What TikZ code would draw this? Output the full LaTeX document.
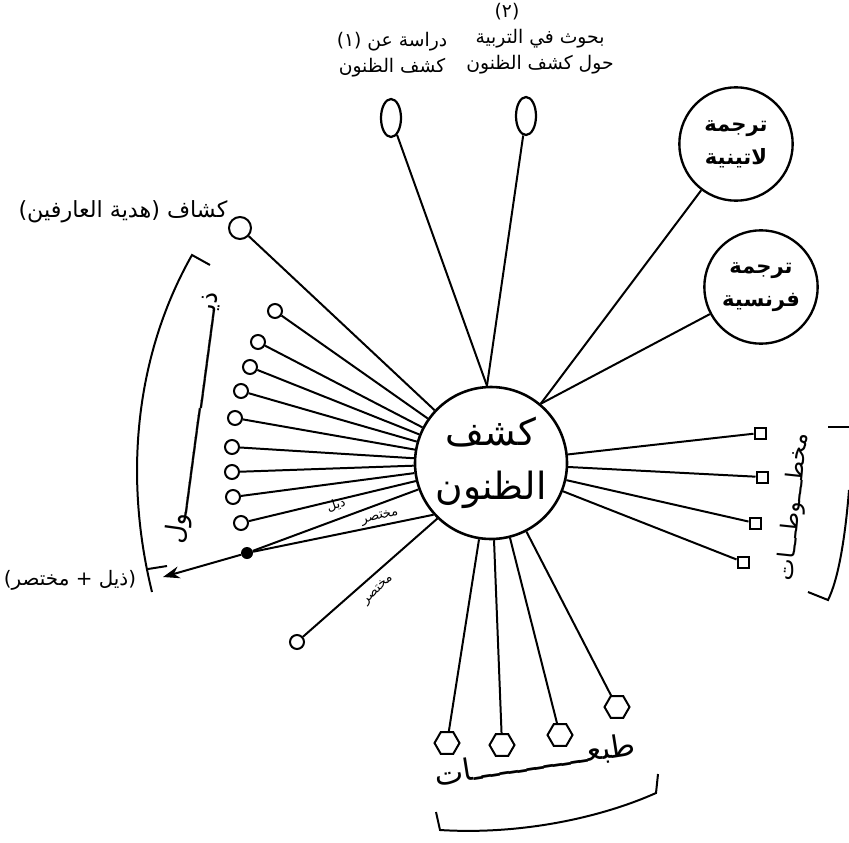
\documentclass[tikz,border=0pt]{standalone}
\usepackage{fontspec}
\newfontfamily\arabicfont[Script=Arabic]{DejaVu Sans}
\TeXXeTstate=1
\usetikzlibrary{shapes.geometric,arrows.meta}
\newcommand\artxt[1]{{\arabicfont\beginR #1\endR}}

\begin{document}
\begin{tikzpicture}[
	x=0.03cm, y=-0.03cm,
	ln/.style = {line width=1.7pt},
	hub/.style = {circle, draw, line width=2.2pt, minimum size=4.56cm, inner sep=0, align=center, font=\fontsize{32}{46}\selectfont},
	transl/.style = {circle, draw, line width=2pt, minimum size=3.4cm, inner sep=0, align=center, font=\bfseries\fontsize{18}{28}\selectfont},
	egg/.style = {ellipse, draw, line width=1.9pt, minimum width=0.6cm, minimum height=1.14cm, inner sep=0},
	ring/.style = {circle, draw, line width=1.7pt, minimum size=0.42cm, inner sep=0},
	bigring/.style = {ring, minimum size=0.66cm},
	blob/.style = {circle, fill, minimum size=0.36cm, inner sep=0},
	sq/.style = {rectangle, draw, line width=1.7pt, minimum size=0.33cm, inner sep=0},
	hex/.style = {regular polygon, regular polygon sides=6, draw, line width=1.7pt, minimum size=0.75cm, inner sep=0},
	lbl/.style = {align=center, inner sep=0, font=\fontsize{16}{22}\selectfont},
	tiny/.style = {inner sep=0, font=\fontsize{11}{13}\selectfont}
	]
	\useasboundingbox (0,0) rectangle (849,842);

	%Nodes
	\node[hub]	(hub)	at	(491,463)	{\artxt{كشف}\\\artxt{الظنون}};
	\node[egg]	(e1)	at	(391,118)	{};
	\node[egg]	(e2)	at	(526,116)	{};
	\node[transl]	(lat)	at	(736,144)	{\artxt{ترجمة}\\\artxt{لاتينية}};
	\node[transl]	(fr)	at	(761,287)	{\artxt{ترجمة}\\\artxt{فرنسية}};
	\node[bigring]	(kash)	at	(240,228)	{};
	\node[ring]	(f1)	at	(275,311)	{};
	\node[ring]	(f2)	at	(258,342)	{};
	\node[ring]	(f3)	at	(250,367)	{};
	\node[ring]	(f4)	at	(241,391)	{};
	\node[ring]	(f5)	at	(235,418)	{};
	\node[ring]	(f6)	at	(232,447)	{};
	\node[ring]	(f7)	at	(232,472)	{};
	\node[ring]	(f8)	at	(233,497)	{};
	\node[ring]	(f9)	at	(241,523)	{};
	\node[blob]	(bl)	at	(247,553)	{};
	\coordinate	(tip)	at	(163,577);
	\node[ring]	(cr)	at	(297,642)	{};
	\node[sq]	(s1)	at	(760,433)	{};
	\node[sq]	(s2)	at	(762,477)	{};
	\node[sq]	(s3)	at	(755,523)	{};
	\node[sq]	(s4)	at	(743,562)	{};
	\node[hex]	(h1)	at	(447,743)	{};
	\node[hex]	(h2)	at	(502,745)	{};
	\node[hex]	(h3)	at	(560,735)	{};
	\node[hex]	(h4)	at	(617,707)	{};

	%Labels
	\node[lbl]	(t1)	at	(392,55)	{\artxt{دراسة عن (١)}\\\artxt{كشف الظنون}};
	\node[lbl]	(t2)	at	(540,52)	{\artxt{بحوث في التربية}\\\artxt{حول كشف الظنون}};
	\node[lbl]	(n2)	at	(507,12)	{\artxt{(٢)}};
	\node[lbl, font=\fontsize{19}{22}\selectfont]	(tk)	at	(123,212)	{\artxt{كشاف (هدية العارفين)}};
	\node[lbl, font=\fontsize{17}{22}\selectfont]	(tz)	at	(70,580)	{\artxt{(ذيل + مختصر)}};
	\node[lbl, rotate=82, font=\fontsize{22}{26}\selectfont]	(tdh)	at	(194,418)	{\artxt{ذيـــــــــــــــــــــــــــول}};
	\node[lbl, rotate=84, font=\fontsize{20}{24}\selectfont]	(tm)	at	(794,507)	{\artxt{مخطـــوطـــات}};
	\node[lbl, rotate=9, font=\fontsize{26}{30}\selectfont]	(tb)	at	(535,761)	{\artxt{طبعـــــــــــــات}};
	\node[tiny, rotate=20]	(ty)	at	(336,505)	{\artxt{ذيل}};
	\node[tiny, rotate=13]	(tx)	at	(380,517)	{\artxt{مختصر}};
	\node[tiny, rotate=44]	(tc)	at	(378,590)	{\artxt{مختصر}};

	%Lines
	\draw[ln]	(e1)	--	(hub.93);
	\draw[ln]	(e2)	--	(hub.93);
	\draw[ln]	(lat)	--	(hub.50);
	\draw[ln]	(fr)	--	(hub.50);
	\draw[ln]	(kash)	--	(hub);
	\draw[ln]	(f1)	--	(hub);
	\draw[ln]	(f2)	--	(hub);
	\draw[ln]	(f3)	--	(hub);
	\draw[ln]	(f4)	--	(hub);
	\draw[ln]	(f5)	--	(hub);
	\draw[ln]	(f6)	--	(hub);
	\draw[ln]	(f7)	--	(hub);
	\draw[ln]	(f8)	--	(hub);
	\draw[ln]	(f9)	--	(hub);
	\draw[ln]	(bl)	--	(hub.200);
	\draw[ln]	(bl)	--	(hub.222);
	\draw[ln, -{Stealth[length=0.5cm, width=0.36cm]}]	(bl)	--	(tip);
	\draw[ln]	(cr)	--	(hub.226);
	\draw[ln]	(s1)	--	(hub);
	\draw[ln]	(s2)	--	(hub);
	\draw[ln]	(s3)	--	(hub);
	\draw[ln]	(s4)	--	(hub);
	\draw[ln]	(h1)	--	(hub);
	\draw[ln]	(h2)	--	(hub);
	\draw[ln]	(h3)	--	(hub);
	\draw[ln]	(h4)	--	(hub);

	%Brackets
	\draw[ln]	(210,265) -- (192,255) .. controls (138,350) and (122,470) .. (152,592);
	\draw[ln]	(148,569) -- (167,566);
	\draw[ln]	(828,427) -- (849,427);
	\draw[ln]	(849,490) .. controls (845,540) and (838,580) .. (828,600) -- (808,592);
	\draw[ln]	(658,774) -- (656,793) .. controls (600,818) and (520,835) .. (440,830) -- (436,812);
\end{tikzpicture}
\end{document}
